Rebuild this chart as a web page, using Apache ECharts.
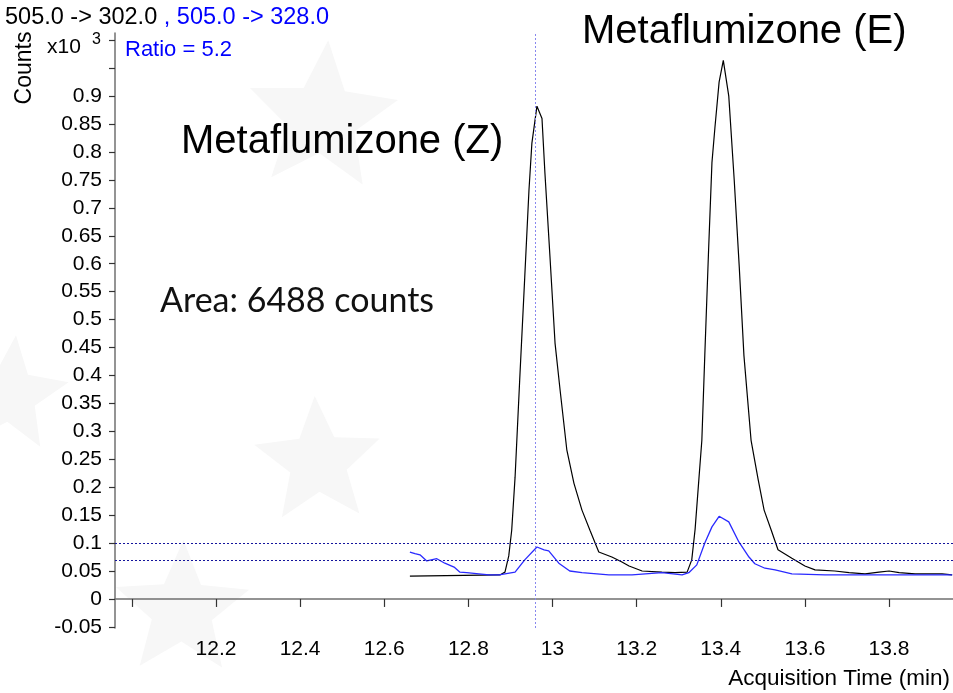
<!DOCTYPE html>
<html>
<head>
<meta charset="utf-8">
<script src="https://cdn.jsdelivr.net/npm/echarts@6/dist/echarts.min.js"></script>
<style>
  html, body { margin: 0; padding: 0; background: #ffffff; }
  #chart { width: 953px; height: 693px; }
</style>
</head>
<body>
<div id="chart"></div>
<script>
// Quantifier transition 505.0 -> 302.0: retention time (min) and abundance (x10^3 counts)
const rt302 = [12.661, 12.875, 12.887, 12.896, 12.903, 12.911, 12.922, 12.934, 12.944, 12.951,
  12.963, 12.975, 12.982, 12.994, 13.006, 13.018, 13.034, 13.051, 13.070, 13.089,
  13.110, 13.141, 13.165, 13.182, 13.213, 13.260, 13.291, 13.320, 13.331, 13.339,
  13.348, 13.355, 13.362, 13.371, 13.379, 13.386, 13.396, 13.406, 13.419, 13.432,
  13.444, 13.455, 13.472, 13.489, 13.503, 13.520, 13.536, 13.569, 13.600, 13.624,
  13.671, 13.705, 13.743, 13.776, 13.800, 13.824, 13.862, 13.926, 13.950];
const cnt302 = [0.041, 0.043, 0.048, 0.077, 0.123, 0.218, 0.392, 0.576, 0.731, 0.816,
  0.882, 0.860, 0.762, 0.612, 0.458, 0.374, 0.267, 0.207, 0.159, 0.123,
  0.084, 0.075, 0.066, 0.059, 0.050, 0.048, 0.047, 0.048, 0.070, 0.125,
  0.215, 0.284, 0.436, 0.624, 0.781, 0.843, 0.925, 0.964, 0.900, 0.749,
  0.593, 0.436, 0.284, 0.213, 0.159, 0.123, 0.088, 0.073, 0.059, 0.052,
  0.050, 0.047, 0.045, 0.048, 0.050, 0.047, 0.045, 0.045, 0.043];

// Qualifier transition 505.0 -> 328.0
const rt328 = [12.661, 12.673, 12.685, 12.701, 12.725, 12.744, 12.766, 12.780, 12.796, 12.825,
  12.849, 12.873, 12.887, 12.911, 12.934, 12.963, 12.980, 12.991, 13.015, 13.041,
  13.070, 13.134, 13.189, 13.260, 13.308, 13.324, 13.343, 13.362, 13.379, 13.396,
  13.419, 13.443, 13.467, 13.481, 13.505, 13.529, 13.569, 13.648, 13.729, 13.807, 13.950];
const cnt328 = [0.084, 0.081, 0.079, 0.068, 0.072, 0.064, 0.057, 0.048, 0.047, 0.045,
  0.043, 0.043, 0.045, 0.048, 0.070, 0.093, 0.088, 0.086, 0.064, 0.050,
  0.047, 0.043, 0.043, 0.047, 0.043, 0.047, 0.061, 0.100, 0.129, 0.148,
  0.138, 0.102, 0.075, 0.063, 0.055, 0.052, 0.045, 0.043, 0.043, 0.043, 0.043];

// Axis ticks and labels
const xTicks = [12.0, 12.2, 12.4, 12.6, 12.8, 13.0, 13.2, 13.4, 13.6, 13.8];
const xLabels = [12.2, 12.4, 12.6, 12.8, 13.0, 13.2, 13.4, 13.6, 13.8];
const yTicks = [-0.05, 0, 0.05, 0.1, 0.15, 0.2, 0.25, 0.3, 0.35, 0.4, 0.45, 0.5,
  0.55, 0.6, 0.65, 0.7, 0.75, 0.8, 0.85, 0.9, 0.95, 1.0];
const yLabels = [-0.05, 0, 0.05, 0.1, 0.15, 0.2, 0.25, 0.3, 0.35, 0.4, 0.45, 0.5,
  0.55, 0.6, 0.65, 0.7, 0.75, 0.8, 0.85, 0.9];

// Ion-ratio tolerance window and apex marker of the integrated peak
const ratioBand = [0.1, 0.075];
const apexRt = 12.965;

const FONT = '"Liberation Sans", Arial, sans-serif';

// Faint star shapes of the background emblem
function starPoints(cx, cy, R, r, rot) {
  const pts = [];
  for (let i = 0; i < 10; i++) {
    const a = rot + i * Math.PI / 5 - Math.PI / 2;
    const rad = i % 2 === 0 ? R : r;
    pts.push([cx + rad * Math.cos(a), cy + rad * Math.sin(a)]);
  }
  return pts;
}
const emblemStars = [
  [322, 118, 78, 0.08],
  [318, 462, 66, -0.05],
  [182, 610, 70, 0.02],
  [10, 395, 60, 0.1]
];

const chart = echarts.init(document.getElementById('chart'));

const graphics = emblemStars.map(s => ({
  type: 'polygon', silent: true, z: -10,
  shape: { points: starPoints(s[0], s[1], s[2], s[2] * 0.45, s[3]) },
  style: { fill: '#f7f7f7' }
}));

graphics.push(
  {
    type: 'text', left: 5, top: 6,
    style: {
      text: '{k|505.0 -> 302.0} {b|, 505.0 -> 328.0}',
      font: '23.5px ' + FONT,
      rich: { k: { fill: '#000000', fontSize: 23.5, fontFamily: FONT }, b: { fill: '#0000ff', fontSize: 23.5, fontFamily: FONT } }
    }
  },
  { type: 'text', left: 125, top: 39, style: { text: 'Ratio = 5.2', fill: '#0000ff', font: '22px ' + FONT } },
  { type: 'text', left: 47, top: 37, style: { text: 'x10', fill: '#000', font: '21px ' + FONT } },
  { type: 'text', left: 92, top: 32, style: { text: '3', fill: '#000', font: '16px ' + FONT } },
  {
    type: 'text', x: 25, y: 68, rotation: Math.PI / 2,
    style: { text: 'Counts', fill: '#000', font: '23px ' + FONT, align: 'center', verticalAlign: 'middle' }
  },
  {
    type: 'text', right: 3, top: 667,
    style: { text: 'Acquisition Time (min)', fill: '#000', font: '22.5px ' + FONT }
  },
  { type: 'text', left: 582, top: 12, style: { text: 'Metaflumizone (E)', fill: '#000', font: '40px ' + FONT } },
  { type: 'text', left: 181, top: 122, style: { text: 'Metaflumizone (Z)', fill: '#000', font: '40px ' + FONT } },
  { type: 'text', left: 160, top: 284, style: { text: 'Area: 6488 counts', fill: '#111', font: '400 34px Lato, "Noto Sans", sans-serif' } }
);

chart.setOption({
  animation: false,
  backgroundColor: '#ffffff',
  grid: { left: 115, right: 0, top: 33, bottom: 65, containLabel: false },
  xAxis: {
    type: 'value', min: 11.96, max: 13.952,
    axisLine: { lineStyle: { color: '#707070', width: 1.5 } },
    axisTick: { customValues: xTicks, length: 8, lineStyle: { color: '#333333', width: 1.2 } },
    axisLabel: {
      customValues: xLabels, color: '#000', fontSize: 21, fontFamily: FONT, margin: 11,
      formatter: v => String(+v.toFixed(1))
    },
    splitLine: { show: false }
  },
  yAxis: {
    type: 'value', min: -0.052, max: 1.013,
    axisLine: { show: true, lineStyle: { color: '#707070', width: 1.5 } },
    axisTick: { show: true, customValues: yTicks, length: 6, lineStyle: { color: '#333333', width: 1.2 } },
    axisLabel: {
      customValues: yLabels, color: '#000', fontSize: 21, fontFamily: FONT, margin: 13,
      formatter: v => String(+v.toFixed(2))
    },
    splitLine: { show: false }
  },
  series: [
    {
      name: '505.0 -> 302.0', type: 'line', showSymbol: false, symbol: 'none',
      data: rt302.map((t, i) => [t, cnt302[i]]),
      lineStyle: { color: '#000000', width: 1.2 },
      z: 3,
      markLine: {
        silent: true, symbol: 'none', label: { show: false },
        lineStyle: { color: '#14149c', type: [2, 2], width: 1 },
        data: [{ yAxis: ratioBand[0] }, { yAxis: ratioBand[1] }]
      }
    },
    {
      name: '505.0 -> 328.0', type: 'line', showSymbol: false, symbol: 'none',
      data: rt328.map((t, i) => [t, cnt328[i]]),
      lineStyle: { color: '#2a2aff', width: 1.3 },
      z: 4,
      markLine: {
        silent: true, symbol: 'none', label: { show: false },
        lineStyle: { color: '#8888ee', type: [2, 2], width: 1 },
        data: [{ xAxis: apexRt }]
      }
    }
  ],
  graphic: graphics
});
</script>
</body>
</html>
